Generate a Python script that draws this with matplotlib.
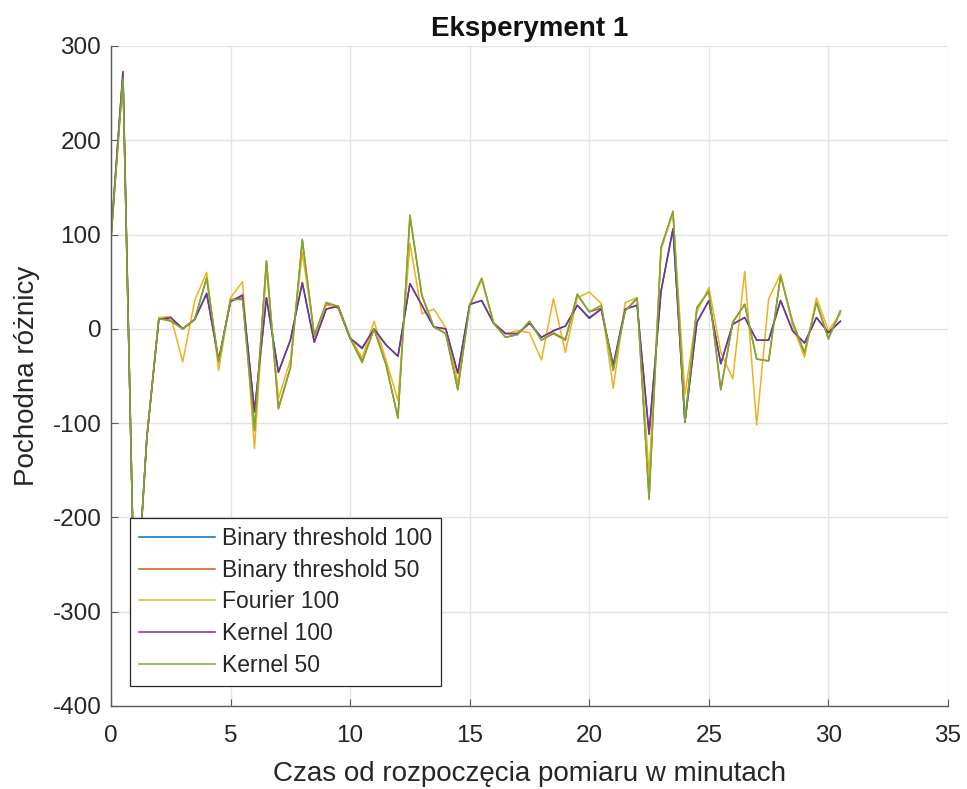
import matplotlib
matplotlib.use("Agg")
import matplotlib.pyplot as plt

plt.rcParams['font.family'] = ['Liberation Sans', 'DejaVu Sans']
plt.rcParams['axes.unicode_minus'] = False

# czas w minutach (co pol minuty)
czas = [0.0, 0.5, 1.0, 1.5, 2.0, 2.5, 3.0, 3.5, 4.0, 4.5,
        5.0, 5.5, 6.0, 6.5, 7.0, 7.5, 8.0, 8.5, 9.0, 9.5,
        10.0, 10.5, 11.0, 11.5, 12.0, 12.5, 13.0, 13.5, 14.0, 14.5,
        15.0, 15.5, 16.0, 16.5, 17.0, 17.5, 18.0, 18.5, 19.0, 19.5,
        20.0, 20.5, 21.0, 21.5, 22.0, 22.5, 23.0, 23.5, 24.0, 24.5,
        25.0, 25.5, 26.0, 26.5, 27.0, 27.5, 28.0, 28.5, 29.0, 29.5,
        30.0, 30.5]

binary_100 = [98, 272, -320, -115, 10, 12, 0, 10, 38, -33,
              29, 35, -88, 33, -46, -12, 49, -14, 21, 24,
              -10, -21, 0, -17, -29, 48, 25, 2, 0, -47,
              26, 30, 6, -5, -5, 6, -9, -2, 3, 25,
              12, 21, -39, 21, 25, -112, 40, 106, -99, 7,
              30, -37, 5, 12, -12, -12, 30, -2, -15, 12,
              -4, 8]

binary_50 = [96, 268, -320, -115, 11, 9, 0, 10, 54, -35,
             31, 32, -106, 72, -84, -41, 94, -8, 27, 22,
             -10, -34, 0, -38, -94, 119, 35, 2, -5, -64,
             25, 53, 6, -9, -6, 8, -12, -5, -12, 36,
             18, 22, -44, 19, 32, -179, 86, 124, -98, 22,
             40, -64, 7, 26, -32, -34, 57, 6, -26, 28,
             -10, 19]

fourier_100 = [98, 272, -320, -115, 12, 13, -35, 30, 60, -44,
               33, 50, -127, 65, -74, -33, 81, -6, 25, 24,
               -8, -31, 8, -33, -76, 91, 16, 21, 1, -57,
               25, 52, 6, -5, -2, -4, -33, 32, -25, 33,
               39, 27, -63, 28, 33, -155, 84, 123, -70, 18,
               44, -25, -53, 61, -102, 32, 58, 4, -30, 33,
               -2, 16]

kernel_100 = [98, 273, -320, -115, 10, 12, 0, 10, 37, -33,
              29, 36, -87, 33, -46, -12, 49, -14, 21, 24,
              -10, -20, 0, -17, -29, 48, 25, 2, 0, -47,
              26, 30, 6, -5, -5, 6, -9, -2, 3, 25,
              11, 21, -39, 21, 25, -111, 40, 106, -99, 7,
              30, -37, 5, 12, -12, -12, 30, -2, -15, 12,
              -4, 8]

kernel_50 = [95, 266, -320, -115, 11, 8, 0, 10, 54, -35,
             31, 31, -108, 72, -85, -42, 95, -7, 28, 24,
             -10, -36, 0, -38, -95, 121, 36, 2, -5, -65,
             25, 54, 6, -9, -6, 8, -12, -4, -11, 37,
             18, 25, -44, 19, 33, -181, 86, 125, -99, 23,
             40, -65, 7, 26, -32, -34, 56, 8, -25, 28,
             -11, 19]

serie = [
    ("Binary threshold 100", binary_100, '#0072BD'),
    ("Binary threshold 50", binary_50, '#D95319'),
    ("Fourier 100", fourier_100, '#EDB120'),
    ("Kernel 100", kernel_100, '#7E2F8E'),
    ("Kernel 50", kernel_50, '#77AC30'),
]

W, H = 967, 789
fig = plt.figure(figsize=(W / 100, H / 100), dpi=100, facecolor='white')
ax = fig.add_axes([111 / W, 1 - 706 / H, (948 - 111) / W, (706 - 46) / H])

for nazwa, y, kolor in serie:
    ax.plot(czas, y, color=kolor, linewidth=1.1, label=nazwa)

ax.set_xlim(0, 35)
ax.set_ylim(-400, 300)
ax.set_xticks(range(0, 36, 5))
ax.set_yticks(range(-400, 301, 100))
ax.grid(True, color='#e3e3e3', linewidth=1.0)
ax.set_axisbelow(True)

for s in ['top', 'right']:
    ax.spines[s].set_visible(False)
for s in ['left', 'bottom']:
    ax.spines[s].set_color('#5a5a5a')
    ax.spines[s].set_linewidth(1.0)

ax.tick_params(axis='both', direction='in', length=5, width=0.8, color='#5a5a5a',
               labelsize=17.5, labelcolor='#262626')
ax.tick_params(axis='x', pad=14)
ax.tick_params(axis='y', pad=7)

ax.set_title("Eksperyment 1", fontsize=20, fontweight='bold', color='#111111', pad=7)
ax.set_xlabel("Czas od rozpoczęcia pomiaru w minutach", fontsize=20, color='#262626')
ax.set_ylabel("Pochodna różnicy", fontsize=20, color='#262626')
ax.xaxis.set_label_coords(0.5, -0.083)
ax.yaxis.set_label_coords(-0.085, 0.5)

leg = ax.legend(loc='lower left', bbox_to_anchor=(130 / W, 1 - 686 / H),
                bbox_transform=fig.transFigure, borderaxespad=0,
                fontsize=16.5, fancybox=False, framealpha=1,
                edgecolor='#262626', handlelength=3.3, handletextpad=0.3,
                labelspacing=0.38, borderpad=0.4)
leg.get_frame().set_linewidth(0.9)
for t in leg.get_texts():
    t.set_color('#262626')

fig.savefig('out.png', dpi=100)
